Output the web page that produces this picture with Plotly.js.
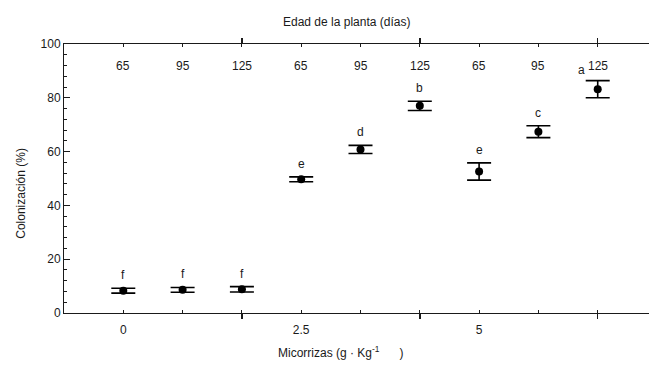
<!DOCTYPE html>
<html>
<head>
<meta charset="utf-8">
<script src="https://cdn.plot.ly/plotly-3.0.1.min.js"></script>
<style>html,body{margin:0;padding:0;background:#fff;}#chart{width:649px;height:366px;}</style>
</head>
<body>
<div id="chart"></div>
<script>
// Data
var doses = ['0', '0', '0', '2.5', '2.5', '2.5', '5', '5', '5'];   // Micorrizas (g·Kg-1)
var days = ['65', '95', '125', '65', '95', '125', '65', '95', '125']; // Edad de la planta (días)
var colonizacion = [8.3, 8.6, 8.8, 49.7, 60.8, 77.0, 52.6, 67.4, 83.2];
var errores = [0.9, 0.9, 1.0, 0.9, 1.5, 1.7, 3.2, 2.2, 3.2];
var letras = ['f', 'f', 'f', 'e', 'd', 'b', 'e', 'c', 'a'];
var doseLabels = ['0', '2.5', '5'];

var pos = colonizacion.map(function (_, i) { return i + 1; });
// first position of each dose group gets the dose label; last of each group gets a long tick
var labelPos = [], groupEnd = [];
doses.forEach(function (d, i) {
  if (i === 0 || doses[i - 1] !== d) labelPos.push(i + 1);
  if (i === doses.length - 1 || doses[i + 1] !== d) groupEnd.push(i + 1);
});
var otherPos = pos.filter(function (p) { return labelPos.indexOf(p) < 0; });

var ink = '#1a1a1a';
var font = {family: 'Liberation Sans, Arial, sans-serif', size: 12, color: ink};

var traces = [
  {
    type: 'scatter', mode: 'markers', x: pos, y: colonizacion,
    marker: {color: '#000', size: 8},
    error_y: {type: 'data', array: errores, visible: true, color: '#000', thickness: 1.6, width: 12},
    hoverinfo: 'skip', showlegend: false
  },
  {type: 'scatter', x: [], y: [], xaxis: 'x2', yaxis: 'y', showlegend: false}
];

var annotations = [];
days.forEach(function (d, i) {
  annotations.push({
    xref: 'x', yref: 'paper', x: pos[i], y: 0.918, text: d, showarrow: false,
    font: font, xanchor: 'center', yanchor: 'middle'
  });
});
letras.forEach(function (l, i) {
  var last = i === letras.length - 1;
  annotations.push({
    xref: 'x', yref: 'y', x: pos[i], y: colonizacion[i] + errores[i], text: l, showarrow: false,
    font: font, xanchor: 'center', yanchor: 'bottom', yshift: last ? 2 : 4, xshift: last ? -16 : 0
  });
});
annotations.push({
  xref: 'paper', yref: 'paper', x: 0.483, y: 1.082, text: 'Edad de la planta (días)',
  showarrow: false, font: font, xanchor: 'center', yanchor: 'middle'
});
annotations.push({
  xref: 'paper', yref: 'paper', x: 0.4735, y: -0.145,
  text: 'Micorrizas (g · Kg<sup>-1</sup>\u00a0\u00a0\u00a0\u00a0\u00a0\u00a0)',
  showarrow: false, font: font, xanchor: 'center', yanchor: 'middle'
});
annotations.push({
  xref: 'paper', yref: 'paper', x: -0.074, y: 0.446, text: 'Colonización (%)', textangle: -90,
  showarrow: false, font: font, xanchor: 'center', yanchor: 'middle'
});

var layout = {
  width: 649, height: 366,
  margin: {l: 64, r: 0, t: 44, b: 53},
  paper_bgcolor: '#fff', plot_bgcolor: '#fff',
  font: font,
  showlegend: false,
  xaxis: {
    range: [0, 9.865], showgrid: false, zeroline: false,
    showline: true, linecolor: ink, linewidth: 1, mirror: 'ticks',
    tickmode: 'array', tickvals: labelPos, ticktext: doseLabels,
    ticks: 'inside', ticklen: 3, tickwidth: 1, tickcolor: ink,
    ticklabelstandoff: 6,
    minor: {tickmode: 'array', tickvals: otherPos, ticks: 'inside', ticklen: 3, tickwidth: 1, tickcolor: ink},
    tickfont: font, fixedrange: true
  },
  xaxis2: {
    overlaying: 'x', matches: 'x', anchor: 'y', side: 'bottom',
    range: [0, 9.865], showgrid: false, zeroline: false, showline: false, mirror: 'ticks',
    tickmode: 'array', tickvals: groupEnd, showticklabels: false,
    ticks: 'outside', ticklen: 5, tickwidth: 1.5, tickcolor: ink
  },
  yaxis: {
    range: [0, 100], showgrid: false, zeroline: false,
    showline: true, linecolor: ink, linewidth: 1,
    tickmode: 'linear', tick0: 0, dtick: 20,
    ticks: 'inside', ticklen: 6, tickwidth: 1, tickcolor: ink,
    minor: {dtick: 4, tick0: 0, ticks: 'inside', ticklen: 3, tickwidth: 1, tickcolor: ink},
    tickfont: font, fixedrange: true
  },
  annotations: annotations
};

Plotly.newPlot('chart', traces, layout, {displayModeBar: false, staticPlot: true});
</script>
</body>
</html>
